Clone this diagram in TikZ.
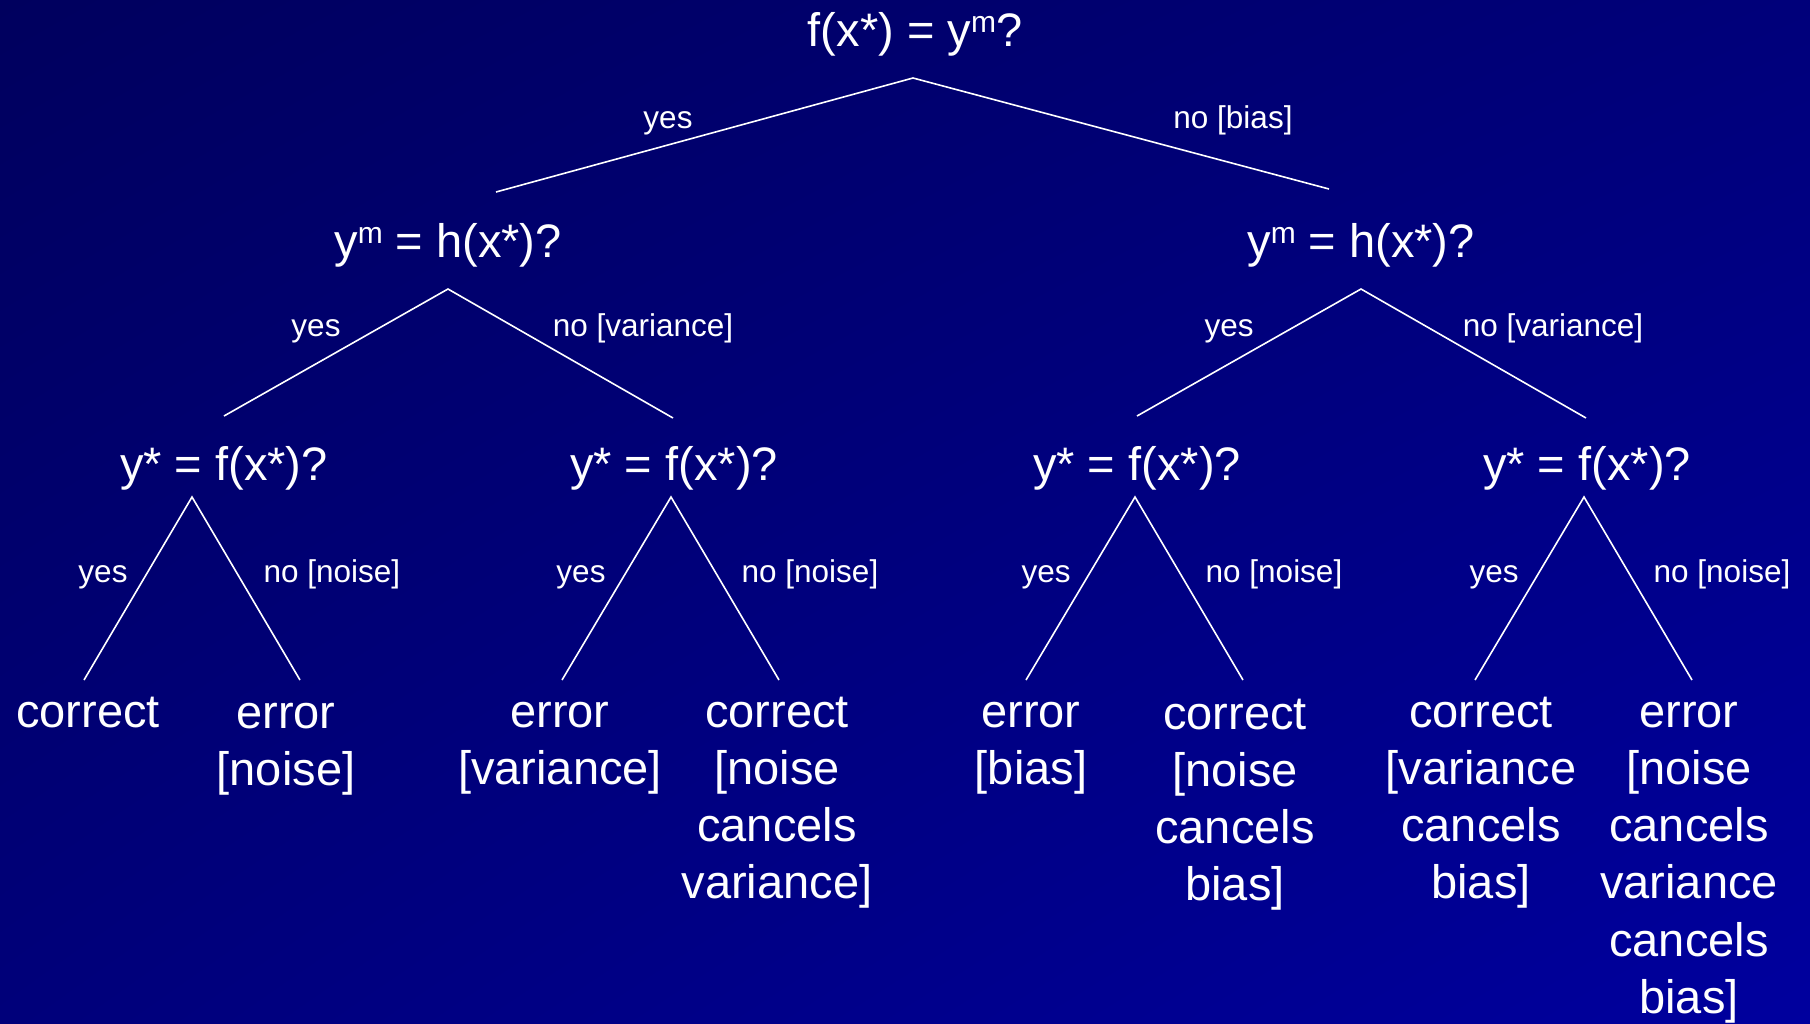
\documentclass[tikz,border=0pt]{standalone}
\usepackage{fontspec}
\setmainfont{Liberation Sans}
\usetikzlibrary{shadings}
\definecolor{bgA}{HTML}{00005E}
\definecolor{bgB}{HTML}{00007A}
\definecolor{bgC}{HTML}{00009E}
\newcommand{\supm}{\raisebox{14pt}{\fontsize{30}{30}\selectfont m}}
\tikzset{
  big/.style={font=\fontsize{47}{57.2}\selectfont, text=white, inner sep=0pt},
  q/.style={big, anchor=base},
  leaf/.style={big, anchor=north, align=center},
  lbl/.style={font=\fontsize{31.5}{38}\selectfont, text=white, inner sep=0pt, anchor=base},
  edge/.style={draw=white, line width=1.6pt},
}
\begin{document}
\begin{tikzpicture}[x=1pt,y=-1pt]
\useasboundingbox (0,0) rectangle (1810,1023);
\shade[upper left=bgA, upper right=bgB, lower left=bgB, lower right=bgC] (0,0) rectangle (1810,1023);

% questions
\node[q] (root) at (915,46) {f(x*) = y\supm?};
\node[q] (hL) at (448,257) {y\supm{} = h(x*)?};
\node[q] (hR) at (1361,257) {y\supm{} = h(x*)?};
\node[q] (f1) at (224,480) {y* = f(x*)?};
\node[q] (f2) at (674,480) {y* = f(x*)?};
\node[q] (f3) at (1137,480) {y* = f(x*)?};
\node[q] (f4) at (1587,480) {y* = f(x*)?};

% leaves
\node[leaf] (l1) at (88,687) {\strut correct};
\node[leaf] (l2) at (286,688) {\strut error\\{}[noise]};
\node[leaf] (l3) at (560,687) {\strut error\\{}[variance]};
\node[leaf] (l4) at (777,687) {\strut correct\\{}[noise\\cancels\\variance]};
\node[leaf] (l5) at (1031,687) {\strut error\\{}[bias]};
\node[leaf] (l6) at (1235,689) {\strut correct\\{}[noise\\cancels\\bias]};
\node[leaf] (l7) at (1481,687) {\strut correct\\{}[variance\\cancels\\bias]};
\node[leaf] (l8) at (1689,687) {\strut error\\{}[noise\\cancels\\variance\\cancels\\bias]};

% connector coordinates
\coordinate (a0) at (913,78);
\coordinate (e0L) at (496,192);
\coordinate (e0R) at (1329,189);
\coordinate (aL) at (448,289);
\coordinate (eLL) at (224,416);
\coordinate (eLR) at (673,418);
\coordinate (aR) at (1361,289);
\coordinate (eRL) at (1137,416);
\coordinate (eRR) at (1586,418);
\coordinate (a1) at (192,497);
\coordinate (a2) at (671,497);
\coordinate (a3) at (1135,497);
\coordinate (a4) at (1584,497);
\coordinate (b1) at (84,680);
\coordinate (b2) at (300,680);
\coordinate (b3) at (562,680);
\coordinate (b4) at (779,680);
\coordinate (b5) at (1026,680);
\coordinate (b6) at (1243,680);
\coordinate (b7) at (1475,680);
\coordinate (b8) at (1692,680);

\draw[edge] (e0L) -- (a0) -- (e0R);
\draw[edge] (eLL) -- (aL) -- (eLR);
\draw[edge] (eRL) -- (aR) -- (eRR);
\draw[edge] (b1) -- (a1) -- (b2);
\draw[edge] (b3) -- (a2) -- (b4);
\draw[edge] (b5) -- (a3) -- (b6);
\draw[edge] (b7) -- (a4) -- (b8);

% branch labels
\node[lbl] (y0) at (668,128) {yes};
\node[lbl] (n0) at (1233,128) {no [bias]};
\node[lbl] (yL) at (316,336) {yes};
\node[lbl] (nL) at (643,336) {no [variance]};
\node[lbl] (yR) at (1229,336) {yes};
\node[lbl] (nR) at (1553,336) {no [variance]};
\node[lbl] (y1) at (103,582) {yes};
\node[lbl] (n1) at (332,582) {no [noise]};
\node[lbl] (y2) at (581,582) {yes};
\node[lbl] (n2) at (810,582) {no [noise]};
\node[lbl] (y3) at (1046,582) {yes};
\node[lbl] (n3) at (1274,582) {no [noise]};
\node[lbl] (y4) at (1494,582) {yes};
\node[lbl] (n4) at (1722,582) {no [noise]};
\end{tikzpicture}
\end{document}
